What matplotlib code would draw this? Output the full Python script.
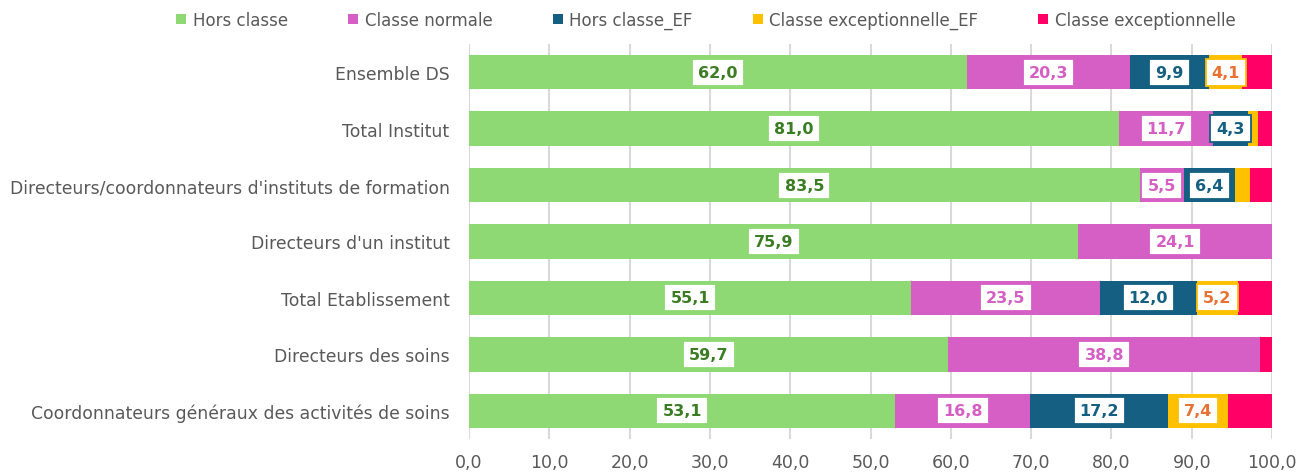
import matplotlib
matplotlib.use("Agg")
import matplotlib.pyplot as plt
import numpy as np

categories = [
    "Ensemble DS",
    "Total Institut",
    "Directeurs/coordonnateurs d'instituts de formation",
    "Directeurs d'un institut",
    "Total Etablissement",
    "Directeurs des soins",
    "Coordonnateurs généraux des activités de soins",
]
series_names = ["Hors classe", "Classe normale", "Hors classe_EF",
                "Classe exceptionnelle_EF", "Classe exceptionnelle"]
hors_classe = [62.0, 81.0, 83.5, 75.9, 55.1, 59.7, 53.1]
classe_normale = [20.3, 11.7, 5.5, 24.1, 23.5, 38.8, 16.8]
hors_classe_ef = [9.9, 4.3, 6.4, 0.0, 12.0, 0.0, 17.2]
classe_exc_ef = [4.1, 1.3, 1.9, 0.0, 5.2, 0.0, 7.4]
classe_exc = [3.7, 1.7, 2.7, 0.0, 4.2, 1.5, 5.5]
ticks = [0, 10, 20, 30, 40, 50, 60, 70, 80, 90, 100]

series = [hors_classe, classe_normale, hors_classe_ef, classe_exc_ef, classe_exc]
colors = ["#8ED973", "#D55FC5", "#156082", "#FFC000", "#FF0066"]
text_colors = ["#3B7D23", "#D55FC5", "#156082", "#E97132", None]

fig = plt.figure(figsize=(13.09, 4.77), dpi=100)
ax = fig.add_axes([469/1309, 37/477, (1272-469)/1309, (440-45)/477])

y = np.arange(len(categories))
left = np.zeros(len(categories))
for vals, col, tcol, name in zip(series, colors, text_colors, series_names):
    vals = np.array(vals)
    ax.barh(y, vals, left=left, height=0.61, color=col, label=name, zorder=2)
    if tcol is not None:
        for yi, (l, v) in enumerate(zip(left, vals)):
            if v >= 4:
                ax.text(l + v/2, yi, f"{v:.1f}".replace(".", ","), ha="center", va="center",
                        fontsize=11.5, fontweight="bold", color=tcol, family="DejaVu Sans",
                        zorder=3,
                        bbox=dict(boxstyle="square,pad=0.38", fc="white", ec=col, lw=1.3))
    left = left + vals

ax.set_xlim(0, 100)
ax.set_ylim(len(categories) - 0.5, -0.5)
ax.set_yticks(y)
ax.set_yticklabels(categories, fontsize=12.4, color="#595959", family="DejaVu Sans")
ax.set_xticks(ticks)
ax.set_xticklabels([f"{t:.1f}".replace(".", ",") for t in ticks], fontsize=12.5, color="#595959")
ax.tick_params(axis="y", length=0, pad=14)
ax.tick_params(axis="x", length=0, pad=10)
for s in ax.spines.values():
    s.set_visible(False)
ax.xaxis.grid(True, color="#D9D9D9", lw=1.5, zorder=0)
ax.set_axisbelow(True)

handles, labels = ax.get_legend_handles_labels()
fig.legend(handles, labels, loc="center", bbox_to_anchor=(706/1309, 1 - 21/477), ncol=5,
           frameon=False, handlelength=0.6, handleheight=0.6,
           columnspacing=3.6, handletextpad=0.4,
           prop={"family": ["DejaVu Sans"], "size": 12})
for t in fig.legends[0].get_texts():
    t.set_color("#595959")

fig.savefig("out.png", dpi=100)
